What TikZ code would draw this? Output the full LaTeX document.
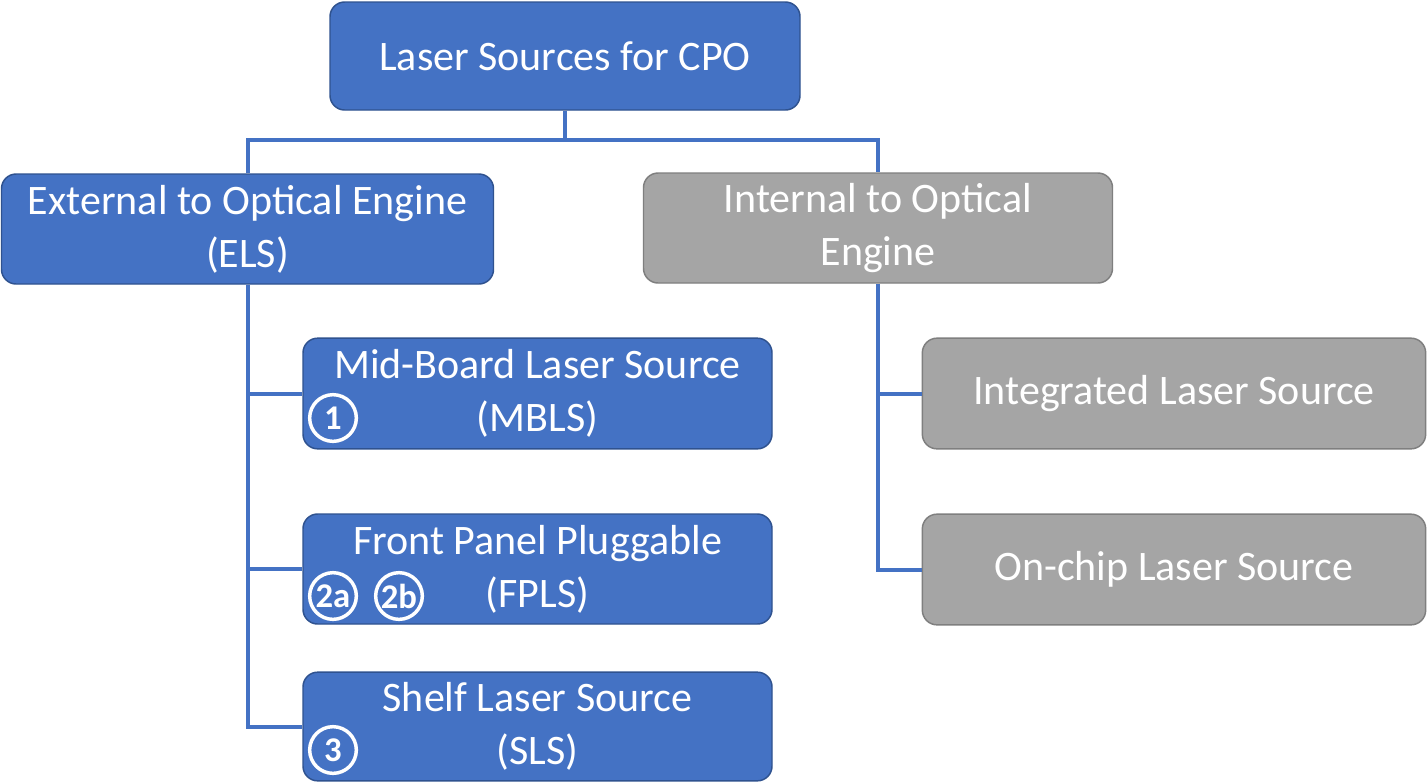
\documentclass[tikz,border=0pt]{standalone}
\usepackage{fontspec}
\setmainfont{Carlito}
\definecolor{bfill}{HTML}{4472C4}
\definecolor{bdraw}{HTML}{2F528F}
\definecolor{gfill}{HTML}{A5A5A5}
\definecolor{gdraw}{HTML}{7F7F7F}
\definecolor{conncol}{HTML}{4472C4}
\begin{document}
\begin{tikzpicture}[x=0.75pt,y=-0.75pt,
  box/.style={rounded corners=11pt, line width=1.1pt, align=center, text=white,
    inner sep=0pt, font=\fontsize{31.5}{39.5}\selectfont},
  bluebox/.style={box, fill=bfill, draw=bdraw},
  graybox/.style={box, fill=gfill, draw=gdraw},
  conn/.style={draw=conncol, line width=3pt},
  badge/.style={circle, draw=white, line width=2.6pt, minimum size=35pt, inner sep=0pt,
    text=white, font=\fontsize{26}{26}\selectfont\bfseries}]
\useasboundingbox (0,0) rectangle (1427,783);
\fill[white] (0,0) rectangle (1427,783);
\coordinate (j) at (565,140);
\node[bluebox, minimum width=352.5pt, minimum height=81pt] (top) at (565,56) {Laser Sources for CPO};
\node[bluebox, minimum width=369pt, minimum height=82.5pt] (els) at (247.5,229) {External to Optical Engine\\(ELS)};
\node[graybox, minimum width=351.75pt, minimum height=82.5pt] (int) at (878,228) {Internal to Optical\\Engine};
\node[bluebox, minimum width=351.75pt, minimum height=83pt] (mbls) at (537.5,393.5) {Mid-Board Laser Source\\(MBLS)};
\node[bluebox, minimum width=351.75pt, minimum height=82.5pt] (fpls) at (537.5,569) {Front Panel Pluggable\\(FPLS)};
\node[bluebox, minimum width=351.75pt, minimum height=81.5pt] (sls) at (537.5,726.5) {Shelf Laser Source\\(SLS)};
\node[graybox, minimum width=377.5pt, minimum height=83pt] (integ) at (1174,393.5) {Integrated Laser Source};
\node[graybox, minimum width=377.5pt, minimum height=83pt] (onchip) at (1174,569.5) {On-chip Laser Source};
\draw[conn] (top.south) -- (j);
\draw[conn] (els.north) |- (j) -| (int.north);
\draw[conn] (els.south) |- (sls.west);
\draw[conn] (els.south |- mbls.west) -- (mbls.west);
\draw[conn] (els.south |- fpls.west) -- (fpls.west);
\draw[conn] (int.south) |- (onchip.west);
\draw[conn] (int.south |- integ.west) -- (integ.west);
\node[badge] (b1) at (333,418) {1};
\node[badge] (b2a) at (333,596) {2a};
\node[badge] (b2b) at (399,596) {2b};
\node[badge] (b3) at (333,750) {3};
\end{tikzpicture}
\end{document}
